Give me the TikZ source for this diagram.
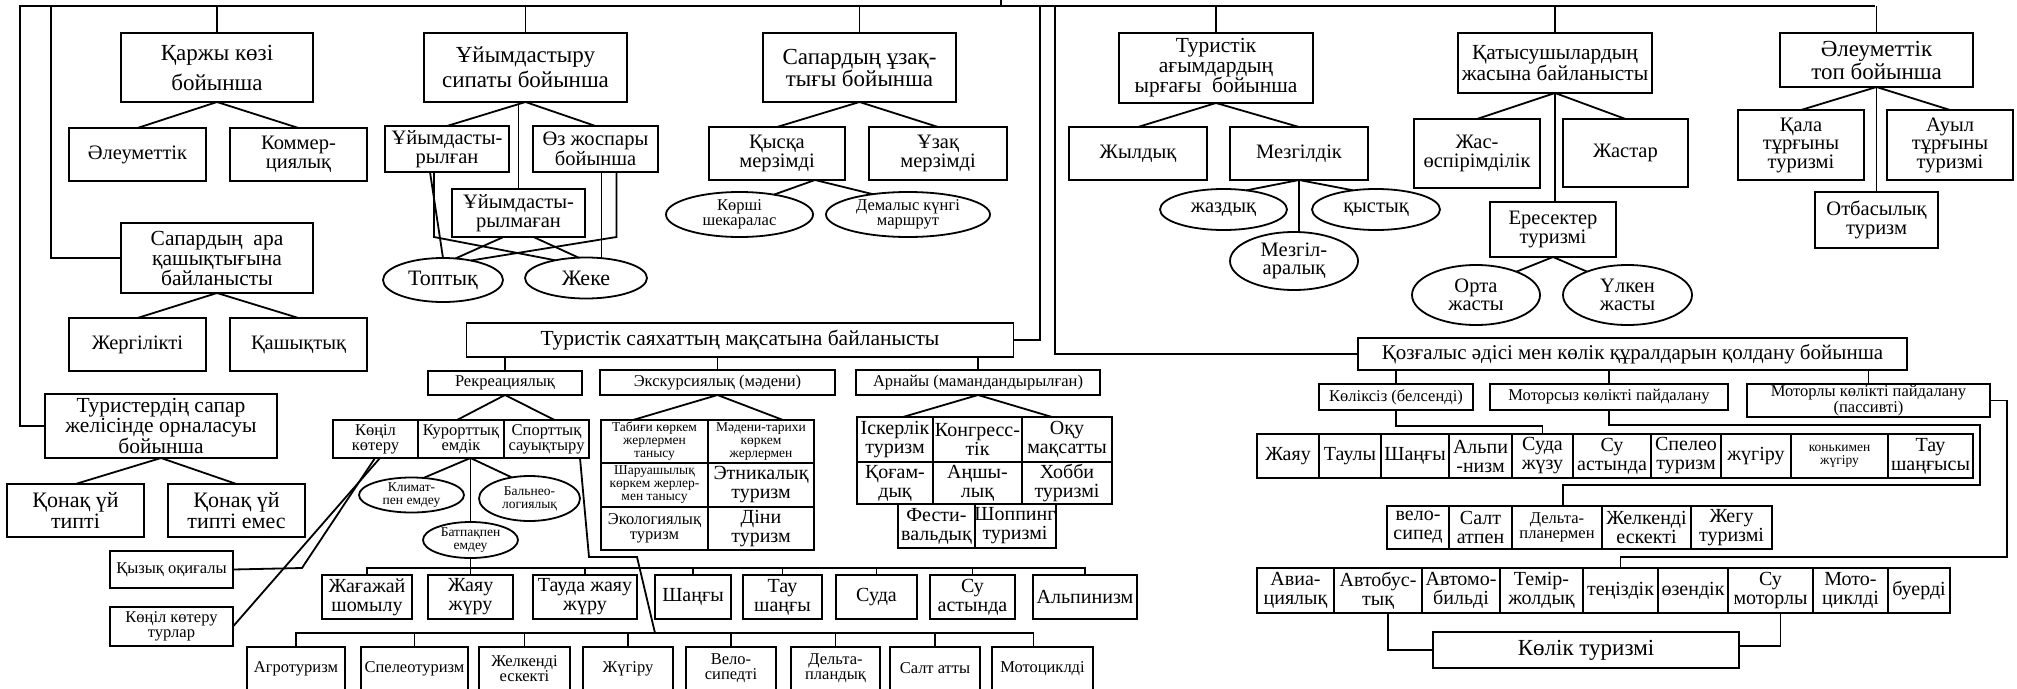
\documentclass[tikz,border=0pt]{standalone}
\usepackage{fontspec}
\setmainfont{Liberation Serif}
\usetikzlibrary{shapes.geometric}
\tikzset{wh/.style 2 args={minimum width=#1,minimum height=#2}}

\begin{document}
\begin{tikzpicture}[x=1pt,y=-1pt,line width=1.8pt]
\tikzstyle{box}=[draw,line width=1.8pt,align=center,inner sep=0pt,outer sep=0pt]
\tikzstyle{big}=[box,font=\fontsize{23}{22}\selectfont]
\tikzstyle{hd}=[box,font=\fontsize{21.5}{20}\selectfont]
\tikzstyle{mid}=[box,font=\fontsize{20.5}{18.5}\selectfont]
\tikzstyle{row}=[box,font=\fontsize{20}{19}\selectfont]
\tikzstyle{sml}=[box,font=\fontsize{16.5}{15}\selectfont]
\tikzstyle{xsm}=[box,font=\fontsize{13.5}{13}\selectfont]
\tikzstyle{oval}=[ellipse]
\useasboundingbox (0,0) rectangle (2017,688);

% upper level headings
\node[big,wh={192}{69}] (finance) at (217,67.5) {Қаржы көзі\\[8pt]бойынша};
\node[big,wh={203}{69}] (organ) at (525.5,67.5) {Ұйымдастыру\\[3pt]сипаты бойынша};
\node[big,wh={193}{69}] (duration) at (859.5,67.5) {Сапардың ұзақ-\\тығы бойынша};
\node[hd,wh={194}{70}] (rhythm) at (1216,68) {Туристік\\ағымдардың\\ырғағы~~бойынша};
\node[hd,wh={194}{60}] (age) at (1555,63) {Қатысушылардың\\жасына байланысты};
\node[big,wh={193}{54}] (social) at (1876.5,60) {Әлеуметтік\\[1pt]топ бойынша};
\node[hd,wh={192}{70}] (distance) at (217,258) {Сапардың~~ара\\қашықтығына\\байланысты};
\node[hd,wh={232}{64}] (placement) at (161,426) {Туристердің сапар\\желісінде орналасуы\\бойынша};
\node[hd,wh={547}{34}] (purpose) at (740,340) {Туристік саяхаттың мақсатына байланысты};
\node[hd,wh={549}{32},font=\fontsize{21}{20}\selectfont] (move) at (1632.5,354) {Қозғалыс әдісі мен көлік құралдарын қолдану бойынша};

% finance, distance, placement
\node[mid,wh={137}{53}] (socfin) at (137.5,154.5) {Әлеуметтік};
\node[mid,wh={137}{53}] (commerce) at (298.5,154.5) {Коммер-\\циялық};
\node[mid,wh={137}{53}] (local) at (137.5,344.5) {Жергілікті};
\node[mid,wh={137}{53}] (far) at (298.5,344.5) {Қашықтық};
\node[big,wh={137}{53},font=\fontsize{22}{21}\selectfont] (hotel) at (75.5,510.5) {Қонақ үй\\типті};
\node[big,wh={137}{53},font=\fontsize{22}{21}\selectfont] (nohotel) at (236.5,510.5) {Қонақ үй\\типті емес};
\draw (finance.south) -- (socfin.north);
\draw (finance.south) -- (commerce.north);
\draw (distance.south) -- (local.north);
\draw (distance.south) -- (far.north);
\draw (placement.south) -- (hotel.north);
\draw (placement.south) -- (nohotel.north);

% organisation
\node[mid,wh={124}{46}] (orgd) at (447,149) {Ұйымдасты-\\рылған};
\node[mid,wh={125}{46}] (ownplan) at (595.5,149) {Өз жоспары\\бойынша};
\node[mid,wh={133}{48}] (unorg) at (518.5,213) {Ұйымдасты-\\рылмаған};
\node[box,oval,wh={120}{44},font=\fontsize{22}{21}\selectfont] (group) at (443,280) {Топтық};
\node[box,oval,wh={122}{41},font=\fontsize{22}{21}\selectfont] (single) at (586,278) {Жеке};
\draw (organ.south) -- (orgd.north);
\draw (organ.south) -- (ownplan.north);
\draw (unorg.north) -- (unorg.north |- organ.south);
\draw ([xshift=-13]orgd.south) -- ++(0,65) -- (single.150);
\draw ([xshift=-13]orgd.south -| group.north) -- (group.north);
\draw ([xshift=-15]unorg.south) -- (group.60);
\draw ([xshift=15]unorg.south) -- (single.110);
\draw ([xshift=6]ownplan.south) -- ([xshift=6]ownplan.south |- single.north);
\draw ([xshift=21]ownplan.south) -- ++(0,65) -- (group.35);

% duration
\node[mid,wh={136}{53}] (short) at (777,153.5) {Қысқа\\мерзімді};
\node[mid,wh={138}{53}] (long) at (938,153.5) {Ұзақ\\мерзімді};
\node[sml,oval,wh={147}{45}] (neighbour) at (739.5,214.5) {Көрші\\шекаралас};
\node[sml,oval,wh={164}{45}] (weekend) at (908,214.5) {Демалыс күнгі\\маршрут};
\draw (duration.south) -- (short.north);
\draw (duration.south) -- (long.north);
\draw ([xshift=38]short.south) -- (neighbour.30);
\draw ([xshift=38]short.south) -- (weekend.150);

% rhythm
\node[mid,wh={138}{53}] (yearly) at (1138,153.5) {Жылдық};
\node[mid,wh={138}{53}] (seasonal) at (1299,153.5) {Мезгілдік};
\node[mid,oval,wh={127}{41}] (summer) at (1223.5,209.5) {жаздық};
\node[mid,oval,wh={128}{41}] (winter) at (1376,209.5) {қыстық};
\node[mid,oval,wh={128}{58}] (offseason) at (1294,261) {Мезгіл-\\аралық};
\draw (rhythm.south) -- (yearly.north);
\draw (rhythm.south) -- (seasonal.north);
\draw (seasonal.south) -- (summer.40);
\draw (seasonal.south) -- (winter.140);
\draw (seasonal.south) -- (seasonal.south |- offseason.north);

% age
\node[mid,wh={126}{69}] (teen) at (1477,153.5) {Жас-\\өспірімділік};
\node[mid,wh={125}{68}] (youth) at (1625.5,153) {Жастар};
\node[mid,wh={126}{55}] (adult) at (1553,229.5) {Ересектер\\туризмі};
\node[mid,oval,wh={128}{60}] (middle) at (1476,295) {Орта\\жасты};
\node[mid,oval,wh={129}{60}] (old) at (1627.5,295) {Үлкен\\жасты};
\draw (age.south) -- (teen.north);
\draw (age.south) -- (youth.north);
\draw (age.south) -- (age.south |- adult.north);
\draw (adult.south) -- (middle.30);
\draw (adult.south) -- (old.150);

% social group
\node[mid,wh={126}{70}] (city) at (1801,145) {Қала\\тұрғыны\\туризмі};
\node[mid,wh={126}{70}] (village) at (1950,145) {Ауыл\\тұрғыны\\туризмі};
\node[mid,wh={123}{56}] (family) at (1876.5,220) {Отбасылық\\туризм};
\draw (social.south) -- (city.north);
\draw (social.south) -- (village.north);
\draw (social.south) -- (family.north);

% frame from the top
\coordinate (topbus) at (1001,0);
\draw (topbus) -- (topbus |- 0,6);
\draw (placement.west) -| (20,6) -- (1875,6);
\draw (distance.west) -| (51,6);
\draw (purpose.east) -| (1040,6);
\draw (move.west) -| (1055,6);
\foreach \n in {finance,organ,duration,rhythm,age,social}
  \draw (\n.north) -- (\n.north |- 0,6);

% purpose of the trip
\node[sml,wh={154}{24}] (recr) at (505,383) {Рекреациялық};
\node[sml,wh={235}{25}] (excur) at (717.5,382.5) {Экскурсиялық (мәдени)};
\node[sml,wh={244}{25}] (special) at (978,382.5) {Арнайы (мамандандырылған)};
\foreach \n in {recr,excur,special}
  \draw (\n.north) -- (\n.north |- purpose.south);

\node[sml,wh={85}{38}] (fun) at (375.5,439) {Көңіл\\көтеру};
\node[sml,wh={86}{38}] (resort) at (461,439) {Курорттық\\емдік};
\node[sml,wh={85}{38}] (sport) at (546.5,439) {Спорттық\\сауықтыру};
\draw (recr.south) -- ([xshift=-4]resort.north);
\draw (recr.south) -- ([xshift=8]sport.north);

\node[xsm,oval,wh={105}{34}] (climate) at (411.5,495) {Климат-\\пен емдеу};
\node[xsm,oval,wh={101}{45}] (balneo) at (529.5,498.5) {Бальнео-\\логиялық};
\node[xsm,oval,wh={95}{36}] (mud) at (470.5,540) {Батпақпен\\емдеу};
\coordinate (rj) at (resort.south -| mud.north);
\draw (rj) -- (climate.55);
\draw (rj) -- (balneo.130);
\draw (rj) -- (mud.north);

\node[sml,wh={123}{37}] (adventure) at (171.5,569.5) {Қызық оқиғалы};
\node[sml,wh={123}{39}] (funtour) at (171.5,626.5) {Көңіл көтеру\\турлар};
\draw ([xshift=-0.5]fun.south) -- (302,568) -- (adventure.east);
\draw ([xshift=4.5]fun.south) -- (funtour.east);

% row of sport kinds
\coordinate (ra) at (0,568);
\node[row,wh={90}{44}] (beach) at (367,597) {Жағажай\\шомылу};
\node[row,wh={85}{44}] (walk) at (470.5,597) {Жаяу\\жүру};
\node[row,wh={104}{44}] (hike) at (585,597) {Тауда жаяу\\жүру};
\node[row,wh={76}{44}] (ski) at (693,597) {Шаңғы};
\node[row,wh={79}{44}] (mski) at (782.5,597) {Тау\\шаңғы};
\node[row,wh={81}{44}] (water) at (876.5,597) {Суда};
\node[row,wh={85}{44}] (under) at (972.5,597) {Су\\астында};
\node[row,wh={104}{44}] (alpin) at (1085,597) {Альпинизм};
\draw (beach.north) -- (beach.north |- ra) -- (alpin.north |- ra) -- (alpin.north);
\foreach \n in {walk,hike,ski,mski,water,under}
  \draw (\n.north) -- (\n.north |- ra);
\draw (mud.south) -- (mud.south |- ra);

\coordinate (rb) at (0,633);
\node[sml,wh={98}{43}] (agro) at (296,668.5) {Агротуризм};
\node[sml,wh={107}{43}] (speleo) at (414.5,668.5) {Спелеотуризм};
\node[sml,wh={91}{43}] (sail) at (524.5,668.5) {Желкенді\\ескекті};
\node[sml,wh={90}{43}] (run) at (628,668.5) {Жүгіру};
\node[sml,wh={90}{43}] (bike) at (731,668.5) {Вело-\\сипедті};
\node[sml,wh={89}{43}] (delta) at (835.5,668.5) {Дельта-\\пландық};
\node[sml,wh={90}{43}] (horse) at (935,668.5) {Салт атты};
\node[sml,wh={101}{43}] (moto) at (1042.5,668.5) {Мотоциклді};
\draw (agro.north) -- (agro.north |- rb) -- ([xshift=-9]moto.north |- rb) -- ([xshift=-9]moto.north);
\foreach \n in {speleo,sail,run,bike,delta,horse}
  \draw (\n.north) -- (\n.north |- rb);
\coordinate (sj) at (655,633);
\draw ([xshift=33.5]sport.south) -- ++(9,99) -- ++(48,0) -- (sj);

% excursion table
\node[xsm,wh={107}{43}] (ex1) at (654.5,441.5) {Табиғи көркем\\жерлермен\\танысу};
\node[xsm,wh={106}{43}] (ex2) at (761,441.5) {Мәдени-тарихи\\көркем\\жерлермен};
\node[xsm,wh={107}{44}] (ex3) at (654.5,485) {Шаруашылық\\көркем жерлер-\\мен танысу};
\node[row,wh={106}{44}] (ex4) at (761,485) {Этникалық\\туризм};
\node[sml,wh={107}{43}] (ex5) at (654.5,528.5) {Экологиялық\\туризм};
\node[row,wh={106}{43}] (ex6) at (761,528.5) {Діни\\туризм};
\draw (excur.south) -- ([xshift=-21.5]ex1.north);
\draw (excur.south) -- ([xshift=22]ex2.north);

% special table
\node[row,wh={76}{45}] (sp1) at (895,439.5) {Іскерлік\\туризм};
\node[row,wh={89}{45}] (sp2) at (977.5,439.5) {Конгресс-\\тік};
\node[row,wh={90}{45}] (sp3) at (1067,439.5) {Оқу\\мақсатты};
\node[row,wh={76}{42}] (sp4) at (895,483) {Қоғам-\\дық};
\node[row,wh={89}{42}] (sp5) at (977.5,483) {Аңшы-\\лық};
\node[row,wh={90}{42}] (sp6) at (1067,483) {Хобби\\туризмі};
\node[row,wh={77}{44}] (sp7) at (936.5,526) {Фести-\\вальдық};
\node[row,wh={80}{44}] (sp8) at (1015,526) {Шоппинг\\туризмі};
\draw (special.south) -- ([xshift=8]sp1.north);
\draw (special.south) -- ([xshift=-15]sp3.north);

% movement
\node[sml,wh={154}{26}] (nontr) at (1396,397) {Көліксіз (белсенді)};
\node[sml,wh={238}{26}] (nonmotor) at (1609,397) {Моторсыз көлікті пайдалану};
\node[sml,wh={243}{33},font=\fontsize{16.5}{13}\selectfont] (motor) at (1868.5,400.5) {Моторлы көлікті пайдалану\\(пассивті)};
\foreach \n in {nontr,nonmotor,motor}
  \draw (\n.north) -- (\n.north |- move.south);

\node[row,wh={62}{44}] (w1) at (1288,456) {Жаяу};
\node[row,wh={62}{44}] (w2) at (1350,456) {Таулы};
\node[row,wh={68}{44}] (w3) at (1415,456) {Шаңғы};
\node[row,wh={63}{44}] (w4) at (1480.5,456) {Альпи\\-низм};
\node[row,wh={61}{44}] (w5) at (1542.5,456) {Суда\\жүзу};
\node[row,wh={78}{44}] (w6) at (1612,456) {Су\\астында};
\node[row,wh={70}{44}] (w7) at (1686,456) {Спелео\\туризм};
\node[row,wh={70}{44}] (w8) at (1756,456) {жүгіру};
\node[xsm,wh={97}{44}] (w9) at (1839.5,456) {конькимен\\жүгіру};
\node[row,wh={85}{44}] (w10) at (1930.5,456) {Тау\\шаңғысы};
\draw (nontr.south) -- (nontr.south |- 0,426) -| (w5.north);

\node[row,wh={62}{43}] (v1) at (1418,527.5) {вело-\\сипед};
\node[row,wh={63}{43}] (v2) at (1480.5,527.5) {Салт\\атпен};
\node[sml,wh={90}{43}] (v3) at (1557,527.5) {Дельта-\\планермен};
\node[row,wh={89}{43}] (v4) at (1646.5,527.5) {Желкенді\\ескекті};
\node[row,wh={81}{43}] (v5) at (1731.5,527.5) {Жегу\\туризмі};
\draw (nonmotor.south) -- (nonmotor.south |- 0,425) -| (1980,485) -| ([xshift=6]v3.north);

\node[row,wh={77}{45}] (t1) at (1295.5,590.5) {Авиа-\\циялық};
\node[row,wh={88}{45}] (t2) at (1378,590.5) {Автобус-\\тық};
\node[row,wh={78}{45}] (t3) at (1461,590.5) {Автомо-\\бильді};
\node[row,wh={83}{45}] (t4) at (1541.5,590.5) {Темір-\\жолдық};
\node[row,wh={75}{45}] (t5) at (1620.5,590.5) {теңіздік};
\node[row,wh={70}{45}] (t6) at (1693,590.5) {өзендік};
\node[row,wh={85}{45}] (t7) at (1770.5,590.5) {Су\\моторлы};
\node[row,wh={75}{45}] (t8) at (1850.5,590.5) {Мото-\\циклді};
\node[row,wh={62}{45}] (t9) at (1919,590.5) {буерді};
\draw (motor.east) -- ++(17,0) |- (t5.north |- 0,557) -- (t5.north);

\node[big,wh={306}{36}] (ktour) at (1586,650) {Көлік туризмі};
\draw ([xshift=10]t2.south) |- (ktour.west);
\draw ([xshift=10]t7.south) |- ([yshift=4]ktour.east);
\end{tikzpicture}
\end{document}
